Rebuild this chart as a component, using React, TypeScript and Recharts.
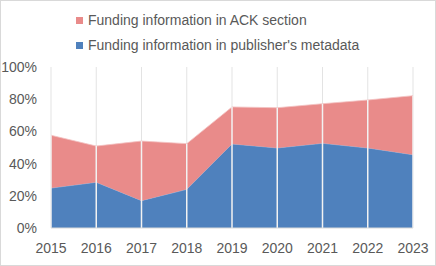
import { AreaChart, Area, XAxis, YAxis, CartesianGrid, ReferenceLine } from "recharts"

const years = [2015, 2016, 2017, 2018, 2019, 2020, 2021, 2022, 2023]
const publisherMeta = [24.8, 28.4, 17, 24, 52.2, 49.7, 52.6, 49.7, 45.5]
const ackSection = [32.8, 22.5, 37, 28.4, 23, 25, 24.6, 29.8, 36.7]
const yTicks = [0, 20, 40, 60, 80, 100]
const gridTicks = [2015, 2015.5, 2016, 2016.5, 2017, 2017.5, 2018, 2018.5, 2019, 2019.5, 2020, 2020.5, 2021, 2021.5, 2022, 2022.5, 2023]

const BLUE = "#4f81bd"
const RED = "#e98b8a"
const TEXT = "#595959"
const FONT = "'Liberation Sans', Arial, sans-serif"

const data = years.map((year, i) => ({
  year,
  publisher: publisherMeta[i],
  ack: ackSection[i],
}))

const legendItems = [
  { name: "Funding information in ACK section", color: RED },
  { name: "Funding information in publisher's metadata", color: BLUE },
]

export default function App() {
  return (
    <div style={{ position: "absolute", top: 0, left: 0, width: 436, height: 266, background: "#fff", fontFamily: FONT }}>
      <AreaChart width={436} height={266} data={data} margin={{ top: 67, right: 23, bottom: 0, left: 0 }}>
        <CartesianGrid xAxisId="grid" horizontal={false} stroke="#e3e3e3" />
        <XAxis
          dataKey="year"
          type="number"
          domain={[2015, 2023]}
          ticks={years}
          tickLine={false}
          axisLine={{ stroke: "#d9d9d9" }}
          height={38}
          tickMargin={9}
          tick={{ fill: TEXT, fontSize: 14, fontFamily: FONT }}
          interval={0}
        />
        <XAxis xAxisId="grid" dataKey="year" type="number" domain={[2015, 2023]} ticks={gridTicks} hide />
        <YAxis
          domain={[0, 100]}
          ticks={yTicks}
          tickFormatter={(v) => `${v}%`}
          tickLine={false}
          axisLine={false}
          width={51}
          tickMargin={8}
          tick={{ fill: TEXT, fontSize: 14, fontFamily: FONT }}
        />
        <Area
          type="linear"
          dataKey="publisher"
          stackId="a"
          fill={BLUE}
          fillOpacity={1}
          stroke="#8fb0da"
          strokeWidth={0.8}
          isAnimationActive={false}
        />
        <Area
          type="linear"
          dataKey="ack"
          stackId="a"
          fill={RED}
          fillOpacity={1}
          stroke="#f3c2c1"
          strokeWidth={0.8}
          isAnimationActive={false}
        />
        {data.map((d) => (
          <ReferenceLine
            key={d.year}
            segment={[
              { x: d.year, y: 0 },
              { x: d.year, y: d.publisher + d.ack },
            ]}
            stroke="#f2f2f2"
            strokeWidth={1.5}
          />
        ))}
      </AreaChart>
      <div style={{ position: "absolute", left: 76, top: 8, color: TEXT, fontSize: 14, lineHeight: "25px" }}>
        {legendItems.map((item) => (
          <div key={item.name} style={{ display: "flex", alignItems: "center" }}>
            <span style={{ display: "inline-block", width: 7, height: 7, background: item.color, marginRight: 5 }} />
            {item.name}
          </div>
        ))}
      </div>
      <div style={{ position: "absolute", inset: 0, border: "1px solid #d9d9d9", pointerEvents: "none" }} />
    </div>
  )
}
